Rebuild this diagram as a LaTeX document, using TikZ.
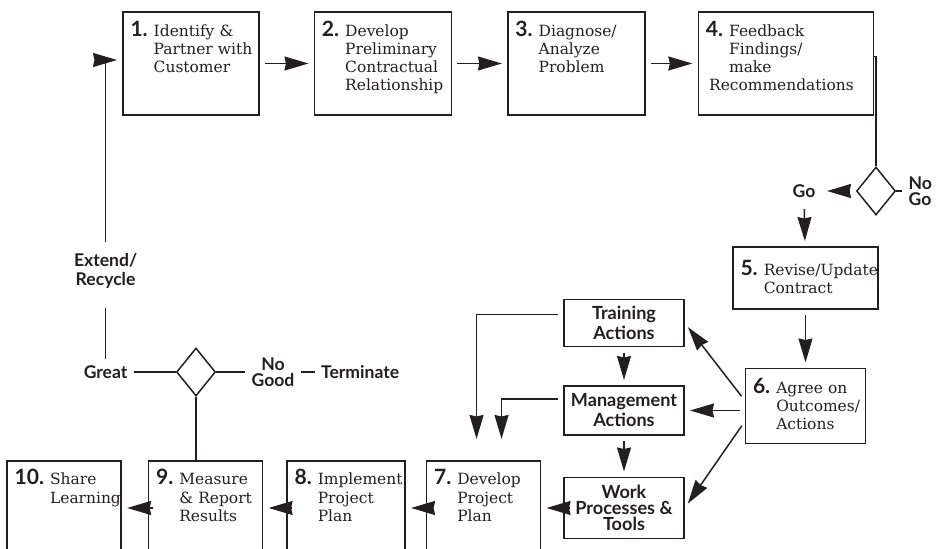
\documentclass[tikz,border=0pt]{standalone}
\usepackage{fontspec}
\setmainfont{DejaVu Serif}
\newfontfamily\lato{Lato}
\usetikzlibrary{positioning,arrows.meta,shapes.geometric}
\definecolor{tinta}{HTML}{231F20}
\newcommand\stp[2]{\mbox{{\lato\bfseries\fontsize{12}{12}\selectfont #1.}\kern0.12cm\begin{tabular}[t]{@{}l@{}}#2\end{tabular}}}

\begin{document}
\begin{tikzpicture}[x=0.02cm, y=-0.02cm, color=tinta,
      p/.style={draw, line width=0.85pt, align=left, inner xsep=0.15cm, inner ysep=0.1cm,
                text height=0.38cm, font=\fontsize{8.8}{10.3}\selectfont},
      top/.style={p, text width=#1, text depth=1.48cm},
      bot/.style={p, text width=#1, text depth=1.3cm},
      act/.style={draw, line width=0.85pt, align=center, minimum width=2.4cm, inner sep=0pt,
                  font=\lato\bfseries\fontsize{10.3}{11.4}\selectfont},
      lb/.style={inner sep=0.12cm, font=\lato\bfseries\fontsize{10}{9.2}\selectfont},
      dia/.style={diamond, draw, line width=0.85pt, minimum width=0.78cm, minimum height=0.96cm,
                  inner sep=0pt},
      f/.style={-{Stealth[length=0.48cm, width=0.28cm, inset=0.03cm]}, line width=0.85pt,
                shorten >=3pt, shorten <=3pt}]
    \useasboundingbox (0,0) rectangle (940,548);
    \clip (0,0) rectangle (940,548);

    \node[top=2.42cm] (n1) at (191,63.5) {\stp{1}{Identify \&\\Partner with\\Customer}};
    \node[top=2.44cm, right=1.08cm of n1] (n2) {\stp{2}{Develop\\Preliminary\\Contractual\\Relationship}};
    \node[top=2.44cm, right=1.1cm of n2] (n3) {\stp{3}{Diagnose/\\Analyze\\Problem}};
    \node[top=3.2cm, right=1.04cm of n3] (n4) {\stp{4}{Feedback\\Findings/\\make\\\hspace*{-0.4cm}Recommendations}};

    \node[dia] (dm1) at (876,191) {};
    \node[lb, left=0.68cm of dm1] (go) {Go};
    \node[lb, right=0.12cm of dm1, align=left] (nogo) {No\\Go};

    \node[p, text width=2.6cm, text height=0.46cm, text depth=0.58cm] (n5) at (805.5,278) {\stp{5}{Revise/Update\\Contract}};
    \node[p, text width=2.1cm, text height=0.4cm, text depth=0.9cm, below=1.16cm of n5] (n6) {\stp{6}{Agree on\\Outcomes/\\Actions}};

    \node[act, minimum height=0.98cm] (mg) at (624,410.5) {Management\\Actions};
    \node[act, minimum height=0.94cm, above=0.76cm of mg] (tr) {Training\\Actions};
    \node[act, minimum height=1.22cm, below=0.82cm of mg,
          font=\lato\bfseries\fontsize{10.3}{9.2}\selectfont] (wk) {Work\\Processes \&\\Tools};

    \node[bot=1.98cm, left=0.44cm of wk] (n7) {\stp{7}{Develop\\Project\\Plan}};
    \node[bot=2.06cm, left=0.4cm of n7] (n8) {\stp{8}{Implement\\Project\\Plan}};
    \node[bot=1.98cm, left=0.46cm of n8] (n9) {\stp{9}{Measure\\\& Report\\Results}};
    \node[bot=1.98cm, left=0.52cm of n9] (n10) {\stp{10}{Share\\Learning}};

    \node[dia] (dm2) at (196,372) {};
    \node[lb, left=0.84cm of dm2] (great) {Great};
    \node[lb, align=center, above=1.28cm of great,
          font=\lato\bfseries\fontsize{10}{10.8}\selectfont] (ext) {Extend/\\Recycle};
    \node[lb, align=center, right=0.58cm of dm2] (nogood) {No\\Good};
    \node[lb, right=0.28cm of nogood] (term) {Terminate};

    \coordinate (a7) at ([xshift=-0.14cm, yshift=0.32cm]n7.north);
    \coordinate (b7) at ([xshift=0.36cm, yshift=0.32cm]n7.north);

    \draw[f] (n1) -- (n2);
    \draw[f] (n2) -- (n3);
    \draw[f] (n3) -- (n4);
    \draw[line width=0.85pt] ([yshift=0.14cm]n4.east) -| (dm1.north);
    \draw[f] (dm1) -- (go);
    \draw[line width=0.85pt] (dm1) -- (nogo);
    \draw[f] (go) -- (n5);
    \draw[f] (n5) -- (n6);
    \draw[f] ([yshift=0.11cm]n6.west) -- (tr.east);
    \draw[f] (n6.west |- mg.east) -- (mg.east);
    \draw[f] ([yshift=-0.31cm]n6.west) -- (wk.east);
    \draw[f] (tr) -- (mg);
    \draw[f] (mg) -- (wk);
    \draw[f] ([yshift=0.17cm]tr.west) -| (a7);
    \draw[f] ([yshift=0.23cm]mg.west) -| (b7);
    \draw[f] (wk) -- (n7);
    \draw[f] (n7) -- (n8);
    \draw[f] (n8) -- (n9);
    \draw[f] (n9) -- (n10);
    \draw[line width=0.85pt] (dm2.south) -- (dm2.south |- n9.north);
    \draw[line width=0.85pt] (dm2) -- (great);
    \draw[line width=0.85pt] (dm2) -- (nogood);
    \draw[line width=0.85pt] (nogood) -- (term);
    \draw[line width=0.85pt, shorten >=0.26cm] (great) -- (ext);
    \draw[f] (ext) |- ([yshift=0.07cm]n1.west);
  \end{tikzpicture}
\end{document}
